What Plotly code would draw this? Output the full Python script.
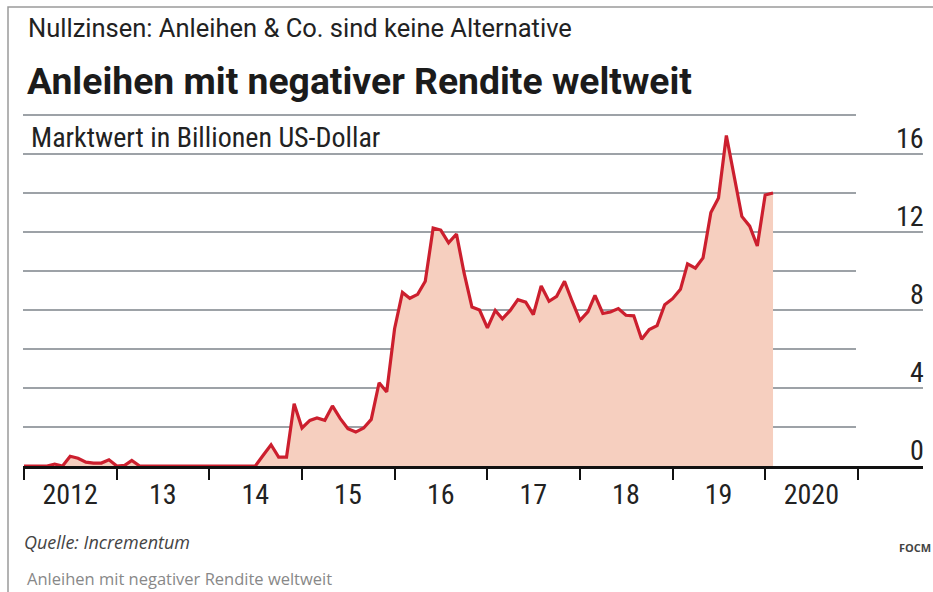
import plotly.graph_objects as go
import pandas as pd

# ---------------- data ----------------
START_MONTH = "2012-01-01"          # first monthly observation
# market value of negative-yielding bonds, trillion USD, monthly from Jan 2012
VALUES = [
    0, 0, 0, 0, 0.1, 0, 0.5, 0.4, 0.2, 0.15, 0.15, 0.32,            # 2012
    0, 0.03, 0.29, 0, 0, 0, 0, 0, 0, 0, 0, 0,                        # 2013
    0, 0, 0, 0, 0, 0, 0, 0.55, 1.09, 0.46, 0.46, 3.19,               # 2014
    1.95, 2.34, 2.46, 2.34, 3.08, 2.43, 1.91, 1.74, 1.95, 2.39, 4.27, 3.8,   # 2015
    7.04, 8.9, 8.6, 8.8, 9.47, 12.2, 12.1, 11.45, 11.9, 9.9, 8.15, 8.0,      # 2016
    7.08, 7.98, 7.55, 7.98, 8.53, 8.4, 7.76, 9.23, 8.45, 8.7, 9.47, 8.45,    # 2017
    7.47, 7.9, 8.75, 7.82, 7.9, 8.07, 7.73, 7.7, 6.5, 7.0, 7.2, 8.27,        # 2018
    8.58, 9.06, 10.37, 10.15, 10.67, 13.0, 13.74, 16.95, 14.8, 12.8, 12.3, 11.28,  # 2019
    13.9, 14.0,                                                      # 2020
]
YEAR_LABEL_DATES = ["2012-07-01", "2013-07-01", "2014-07-01", "2015-07-01", "2016-07-01",
                    "2017-07-01", "2018-07-01", "2019-07-01", "2020-07-01"]
YEAR_LABELS = ["2012", "13", "14", "15", "16", "17", "18", "19", "2020"]
Y_LABEL_VALUES = [0, 4, 8, 12, 16]
Y_SHORT_GRID = [2, 6, 10, 14, 18]

SUPTITLE = "Nullzinsen: Anleihen & Co. sind keine Alternative"
TITLE = "Anleihen mit negativer Rendite weltweit"
UNIT = "Marktwert in Billionen US-Dollar"
SOURCE = "Quelle: Incrementum"
BRAND = "FOCM"
CAPTION = "Anleihen mit negativer Rendite weltweit"

# ---------------- layout geometry ----------------
W, H = 933, 592
ML, MR, MT, MB = 23, 10, 100, 126
PW, PH = W - ML - MR, H - MT - MB
PX_PER_UNIT = 19.5
Y_MAX = PH / PX_PER_UNIT

t0 = pd.Timestamp("2012-01-01")
px_per_day = 834 / (pd.Timestamp("2021-01-01") - t0).days
X_RANGE = [t0 - pd.Timedelta(days=1 / px_per_day), t0 + pd.Timedelta(days=899 / px_per_day)]


def px_x(p):
    return (p - ML) / PW


def px_y(p):
    return (H - MB - p) / PH


COND = "Roboto Condensed, Roboto, sans-serif"
LINE_RED = "#cc1f2e"
FILL = "#f6cfbf"
GRID = "#9da2a7"

dates = pd.date_range(START_MONTH, periods=len(VALUES), freq="MS")

fig = go.Figure()
fig.add_trace(go.Scatter(
    x=dates, y=VALUES, mode="lines",
    line=dict(color=LINE_RED, width=3.2),
    fill="tozeroy", fillcolor=FILL,
    hoverinfo="skip", showlegend=False,
))

shapes = []
for v in Y_SHORT_GRID:
    shapes.append(dict(type="line", xref="paper", yref="y", x0=0, x1=px_x(856), y0=v, y1=v,
                       line=dict(color=GRID, width=2), layer="below"))
# outer frame
shapes.append(dict(type="rect", xref="paper", yref="paper",
                   x0=px_x(8), x1=px_x(945), y0=px_y(605), y1=px_y(7),
                   line=dict(color="#9a9a9a", width=1.5), layer="below"))

annotations = [
    dict(text=SUPTITLE, xref="paper", yref="paper", x=px_x(26), y=px_y(28),
         xanchor="left", yanchor="middle", showarrow=False,
         font=dict(family="Roboto", size=25.5, color="#222")),
    dict(text="<b>" + TITLE + "</b>", xref="paper", yref="paper", x=px_x(25), y=px_y(81),
         xanchor="left", yanchor="middle", showarrow=False,
         font=dict(family="Roboto", size=37.3, color="#1b1b1b")),
    dict(text=UNIT, xref="paper", yref="y", x=px_x(29), y=16.85,
         xanchor="left", yanchor="middle", showarrow=False,
         font=dict(family=COND, size=28, color="#222")),
    dict(text="<i>" + SOURCE + "</i>", xref="paper", yref="paper", x=px_x(22), y=px_y(542),
         xanchor="left", yanchor="middle", showarrow=False,
         font=dict(family="Open Sans", size=18, color="#444")),
    dict(text="<b>" + BRAND + "</b>", xref="paper", yref="paper", x=px_x(897), y=px_y(547),
         xanchor="left", yanchor="middle", showarrow=False,
         font=dict(family="Open Sans", size=11, color="#444")),
    dict(text=CAPTION, xref="paper", yref="paper", x=px_x(25), y=px_y(578),
         xanchor="left", yanchor="middle", showarrow=False,
         font=dict(family="Open Sans", size=16.5, color="#888")),
]
# value labels of the y axis, sitting on their grid lines at the right edge
for v in Y_LABEL_VALUES:
    annotations.append(dict(text=str(v), xref="paper", yref="y", x=1, y=v,
                            xanchor="right", yanchor="bottom", xshift=3, yshift=-3,
                            showarrow=False,
                            font=dict(family=COND, size=28, color="#222")))

fig.update_layout(
    width=W, height=H,
    margin=dict(l=ML, r=MR, t=MT, b=MB, autoexpand=False),
    paper_bgcolor="white", plot_bgcolor="white",
    shapes=shapes, annotations=annotations,
    xaxis=dict(
        type="date", range=X_RANGE, fixedrange=True,
        showgrid=False, zeroline=False,
        showline=True, linecolor="#111", linewidth=2.5,
        tickmode="array", tickvals=YEAR_LABEL_DATES, ticktext=YEAR_LABELS,
        ticks="", ticklabelstandoff=2,
        tickfont=dict(family=COND, size=28, color="#222"),
        minor=dict(tickmode="linear", tick0="2012-01-01", dtick="M12",
                   ticks="outside", ticklen=11, tickwidth=2, tickcolor="#111",
                   showgrid=False),
    ),
    yaxis=dict(
        range=[0, Y_MAX], fixedrange=True, side="right",
        tickmode="array", tickvals=Y_LABEL_VALUES, showticklabels=False, ticks="",
        showgrid=True, gridcolor=GRID, gridwidth=2,
        zeroline=False, showline=False,
    ),
)

fig.write_html("out.html")
